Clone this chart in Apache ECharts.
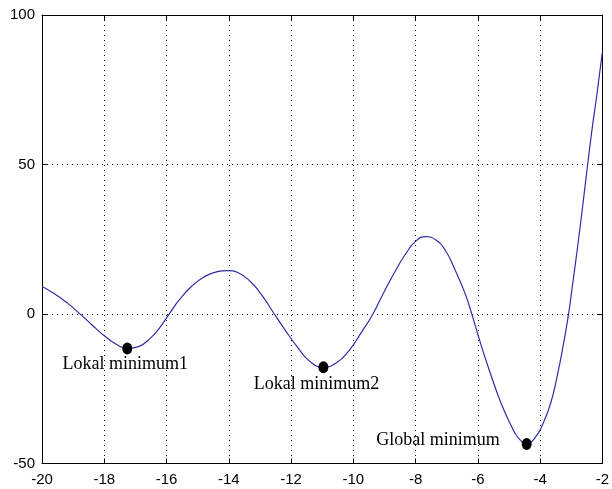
<!DOCTYPE html>
<html>
<head>
<meta charset="utf-8">
<script src="https://cdn.jsdelivr.net/npm/echarts@6/dist/echarts.min.js"></script>
<style>
html,body{margin:0;padding:0;background:#fff;}
#c{width:612px;height:489px;}
</style>
</head>
<body>
<div id="c"></div>
<script>
// Curve samples
var curveX = [-20.0, -19.6, -19.2, -18.8, -18.4, -18.0, -17.6, -17.25, -16.9, -16.5, -16.2, -15.9, -15.6, -15.2, -14.8, -14.4, -14.05, -13.7, -13.3, -12.95, -12.6, -12.2, -11.8, -11.4, -10.96, -10.55, -10.15, -9.75, -9.37, -9.0, -8.6, -8.3, -8.0, -7.68, -7.37, -7.05, -6.73, -6.41, -6.2, -5.88, -5.56, -5.25, -4.93, -4.7, -4.43, -4.15, -3.9, -3.65, -3.45, -3.25, -3.08, -2.95, -2.8, -2.65, -2.5, -2.34, -2.18, -2.0];
var curveY = [9.2, 6.8, 3.8, 0.2, -3.6, -7.3, -10.2, -11.5, -10.9, -7.9, -4.3, 0.2, 4.6, 9.2, 12.4, 14.1, 14.5, 13.8, 10.8, 6.5, 1.0, -5.2, -11.0, -15.8, -17.8, -16.4, -12.4, -6.3, 0, 7.6, 15.3, 20.4, 24.3, 25.9, 24.9, 21.4, 14.7, 6.9, 0.2, -10.9, -21, -29.9, -37.3, -41.4, -43.3, -41.2, -36.5, -29.5, -20.8, -10.2, 0.3, 10.3, 22.0, 34.5, 47.5, 61.0, 73.0, 87.5];

// Marked minima
var minX = [-17.26, -10.96, -4.43];
var minY = [-11.5, -17.8, -43.5];
var minLabels = ['Lokal minimum1', 'Lokal minimum2', 'Global minimum'];

// Axis ticks
var xMin = -20, xMax = -2, xStep = 2;
var yMin = -50, yMax = 100, yStep = 50;

var curveData = curveX.map(function (x, i) { return [x, curveY[i]]; });

var labelStyles = [
  { position: 'bottom', distance: 1, offset: [-2, 0] },
  { position: 'bottom', distance: 2, offset: [-7, 0] },
  { position: 'left', distance: 22, offset: [0, -4] }
];
var minData = minX.map(function (x, i) {
  return {
    value: [x, minY[i]],
    label: Object.assign({
      show: true,
      formatter: minLabels[i],
      fontFamily: 'Liberation Serif, serif',
      fontSize: 18,
      color: '#000'
    }, labelStyles[i])
  };
});

var axisFont = { color: '#000', fontFamily: 'Liberation Sans, Arial, sans-serif', fontSize: 15 };
var lineStyleAxis = { color: '#000', width: 1 };

var chart = echarts.init(document.getElementById('c'), null, { renderer: 'canvas' });
chart.setOption({
  animation: false,
  backgroundColor: '#fff',
  grid: { left: 42, right: 3, top: 15, bottom: 25.5 },
  xAxis: [{
    type: 'value', min: xMin, max: xMax, interval: xStep, position: 'bottom',
    axisLine: { show: true, onZero: false, lineStyle: lineStyleAxis },
    axisTick: { show: true, inside: true, length: 5, lineStyle: lineStyleAxis },
    axisLabel: Object.assign({ margin: 9 }, axisFont),
    splitLine: { show: true, lineStyle: { color: '#000', width: 1, type: [1, 4] } }
  }, {
    type: 'value', min: xMin, max: xMax, interval: xStep, position: 'top',
    axisLine: { show: true, onZero: false, lineStyle: lineStyleAxis },
    axisTick: { show: true, inside: true, length: 5, lineStyle: lineStyleAxis },
    axisLabel: { show: false },
    splitLine: { show: false }
  }],
  yAxis: [{
    type: 'value', min: yMin, max: yMax, interval: yStep, position: 'left',
    axisLine: { show: true, onZero: false, lineStyle: lineStyleAxis },
    axisTick: { show: true, inside: true, length: 5, lineStyle: lineStyleAxis },
    axisLabel: Object.assign({ margin: 7 }, axisFont),
    splitLine: { show: true, lineStyle: { color: '#000', width: 1, type: [1, 4] } }
  }, {
    type: 'value', min: yMin, max: yMax, interval: yStep, position: 'right',
    axisLine: { show: true, onZero: false, lineStyle: lineStyleAxis },
    axisTick: { show: true, inside: true, length: 5, lineStyle: lineStyleAxis },
    axisLabel: { show: false },
    splitLine: { show: false }
  }],
  series: [{
    type: 'line',
    data: curveData,
    smooth: 0.5,
    showSymbol: false,
    lineStyle: { color: '#2e2ea6', width: 1.2 },
    z: 3
  }, {
    type: 'scatter',
    data: minData,
    symbol: 'circle',
    symbolSize: [10, 12],
    itemStyle: { color: '#000', opacity: 1 },
    z: 4
  }]
});
</script>
</body>
</html>
